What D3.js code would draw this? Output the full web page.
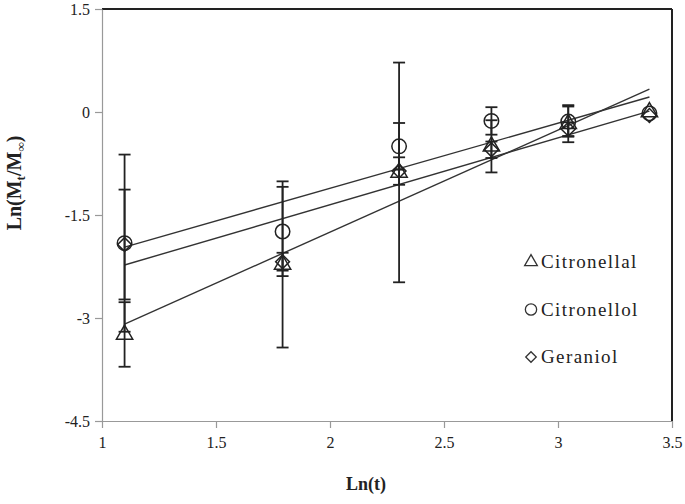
<!DOCTYPE html>
<html>
<head>
<meta charset="utf-8">
<script src="https://cdn.jsdelivr.net/npm/d3@7"></script>
<style>
  body { margin: 0; background: #fff; }
  svg text { font-family: "Liberation Serif", "Times New Roman", serif; fill: #222; }
</style>
</head>
<body>
<svg id="chart" width="685" height="504"></svg>
<script>
// ln(t) for t = 3, 6, 10, 15, 21, 30
const lnT = [1.099, 1.792, 2.303, 2.708, 3.045, 3.401];
const xTicks = [1, 1.5, 2, 2.5, 3, 3.5];
const yTicks = [-4.5, -3, -1.5, 0, 1.5];

const citronellal = [-3.24, -2.22, -0.88, -0.50, -0.17, 0.00];
const citronellalErr = [0.47, 1.21, 1.60, 0.38, 0.27, 0];
const citronellol = [-1.91, -1.74, -0.50, -0.13, -0.14, -0.02];
const citronellolErr = [1.29, 0.65, 0.34, 0.20, 0.22, 0];
const geraniol = [-1.93, -2.18, -0.86, -0.55, -0.25, -0.05];
const geraniolErr = [0.80, 0.13, 0.20, 0.12, 0.10, 0];

const seriesNames = ['Citronellal', 'Citronellol', 'Geraniol'];

const series = [
  { name: seriesNames[0], y: citronellal, err: citronellalErr, shape: 'triangle' },
  { name: seriesNames[1], y: citronellol, err: citronellolErr, shape: 'circle' },
  { name: seriesNames[2], y: geraniol, err: geraniolErr, shape: 'diamond' }
];

const svg = d3.select('#chart');
const x = d3.scaleLinear().domain([1, 3.5]).range([102, 672]);
const y = d3.scaleLinear().domain([-4.5, 1.5]).range([421, 9]);

// markers
const symbolFor = (shape, big) => {
  if (shape === 'triangle') return d3.symbol(d3.symbolTriangle, big ? 115 : 70)();
  if (shape === 'circle') return d3.symbol(d3.symbolCircle, big ? 165 : 100)();
  return d3.symbol(d3.symbolSquare, big ? 95 : 55)();
};
const rot = shape => shape === 'diamond' ? ' rotate(45)' : '';

// frame: top and right in black
svg.append('line').attr('x1', x(1)).attr('x2', x(3.5)).attr('y1', y(1.5)).attr('y2', y(1.5))
  .attr('stroke', '#222').attr('stroke-width', 2);
svg.append('line').attr('x1', x(3.5)).attr('x2', x(3.5)).attr('y1', y(1.5)).attr('y2', y(-4.5))
  .attr('stroke', '#222').attr('stroke-width', 2);

// axes
const xAxis = svg.append('g')
  .attr('transform', `translate(0,${y(-4.5)})`)
  .call(d3.axisBottom(x).tickValues(xTicks).tickSize(7).tickSizeOuter(0).tickFormat(d => String(d)));
const yAxis = svg.append('g')
  .attr('transform', `translate(${x(1)},0)`)
  .call(d3.axisLeft(y).tickValues(yTicks).tickSize(7).tickSizeOuter(0).tickFormat(d => String(d)));

[xAxis, yAxis].forEach(a => {
  a.select('.domain').attr('stroke', '#999').attr('stroke-width', 1.2);
  a.selectAll('.tick line').attr('stroke', '#999').attr('stroke-width', 1.2);
  a.selectAll('.tick text').style('font-size', '16px').attr('fill', '#333');
});
xAxis.selectAll('.tick text').attr('dy', '1.05em');
yAxis.selectAll('.tick text').attr('x', -12);

// trend lines (least squares over each series)
series.forEach(s => {
  const mx = d3.mean(lnT), my = d3.mean(s.y);
  const sxy = d3.sum(lnT, (v, i) => (v - mx) * (s.y[i] - my));
  const sxx = d3.sum(lnT, v => (v - mx) * (v - mx));
  const slope = sxy / sxx, icpt = my - slope * mx;
  const ends = d3.extent(lnT);
  svg.append('line')
    .attr('x1', x(ends[0])).attr('y1', y(icpt + slope * ends[0]))
    .attr('x2', x(ends[1])).attr('y2', y(icpt + slope * ends[1]))
    .attr('stroke', '#333').attr('stroke-width', 1.4);
});

// error bars
const capW = 6;
series.forEach(s => {
  const g = svg.append('g').attr('stroke', '#222').attr('stroke-width', 1.8);
  lnT.forEach((t, i) => {
    if (!s.err[i]) return;
    const px = x(t), top = y(s.y[i] + s.err[i]), bot = y(s.y[i] - s.err[i]);
    g.append('line').attr('x1', px).attr('x2', px).attr('y1', top).attr('y2', bot);
    g.append('line').attr('x1', px - capW).attr('x2', px + capW).attr('y1', top).attr('y2', top);
    g.append('line').attr('x1', px - capW).attr('x2', px + capW).attr('y1', bot).attr('y2', bot);
  });
});

// points
series.forEach(s => {
  svg.append('g').selectAll('path')
    .data(lnT)
    .join('path')
    .attr('d', symbolFor(s.shape, true))
    .attr('transform', (t, i) => `translate(${x(t)},${y(s.y[i])})${rot(s.shape)}`)
    .attr('fill', 'none')
    .attr('stroke', '#222')
    .attr('stroke-width', 1.5);
});

// legend
const legend = svg.append('g');
series.forEach((s, i) => {
  const ly = 262 + i * 47.5;
  legend.append('path')
    .attr('d', symbolFor(s.shape, false))
    .attr('transform', `translate(531,${ly})${rot(s.shape)}`)
    .attr('fill', 'none').attr('stroke', '#333').attr('stroke-width', 1.3);
  legend.append('text')
    .attr('x', 541).attr('y', ly + 6)
    .style('font-size', '19px').style('letter-spacing', '1.4px')
    .text(s.name);
});

// axis titles
svg.append('text')
  .attr('x', 366).attr('y', 490)
  .attr('text-anchor', 'middle')
  .style('font-size', '18px').style('font-weight', 'bold')
  .text('Ln(t)');

const yt = svg.append('text')
  .attr('transform', 'translate(21,183) rotate(-90)')
  .attr('text-anchor', 'middle')
  .style('font-size', '20px').style('font-weight', 'bold');
yt.append('tspan').text('Ln(M');
yt.append('tspan').attr('dy', 4).style('font-size', '13px').text('t');
yt.append('tspan').attr('dy', -4).text('/M');
yt.append('tspan').attr('dy', 4).style('font-size', '13px').text('∞');
yt.append('tspan').attr('dy', -4).text(')');
</script>
</body>
</html>
